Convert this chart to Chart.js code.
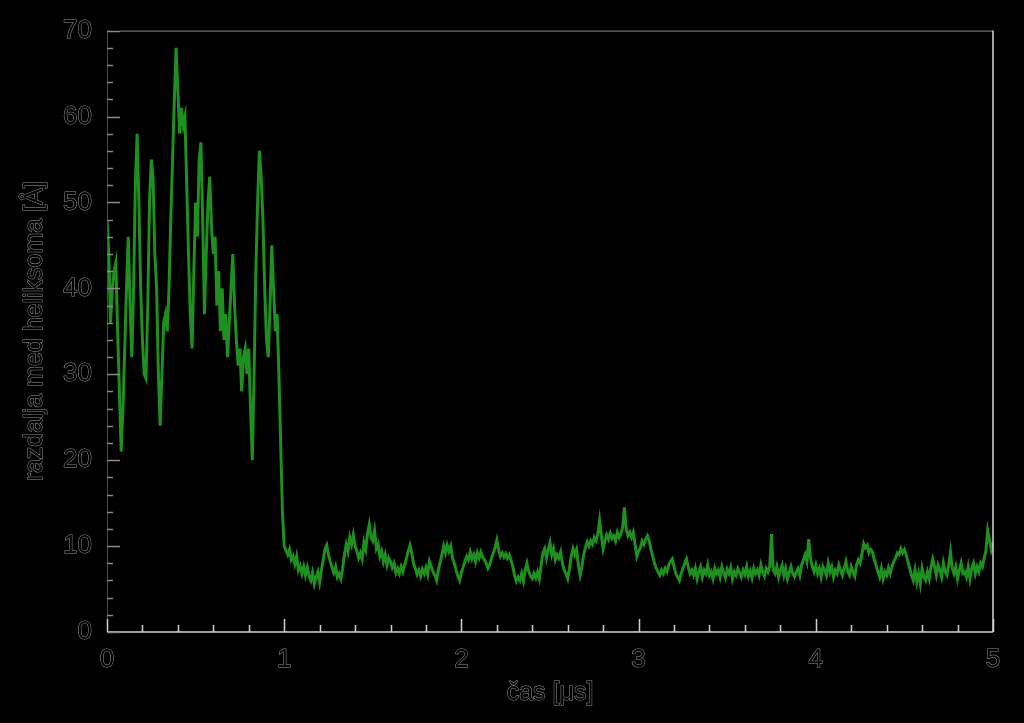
<!DOCTYPE html>
<html>
<head>
<meta charset="utf-8">
<script src="https://cdn.jsdelivr.net/npm/chart.js@4.4.1/dist/chart.umd.min.js"></script>
<style>
  html, body { margin: 0; padding: 0; background: #000; }
  canvas { display: block; }
</style>
</head>
<body>
<canvas id="chart" width="1024" height="723"></canvas>
<script>
// Zeitschritt der Messreihe (mikrosekunden)
var timeStep = 0.01;

// Abstand zwischen den Helices (0 ... 1 us)
var distanceEarly = [
  48, 44, 36, 40, 42, 43, 35, 28, 21, 26, 33, 40, 46, 38, 32, 40, 52, 58, 50, 40,
  34, 30, 29.5, 38, 50, 55, 53, 44, 40, 30, 24, 30, 36, 37, 35, 40, 48, 55, 62, 68,
  63, 58, 61, 59, 60, 52, 44, 37, 33, 42, 50, 46, 55, 57, 48, 37, 44, 50, 53, 47,
  44, 46, 38, 42, 35, 40, 34, 37, 32, 36, 40, 44, 38, 34, 31, 33, 28, 32, 33, 30,
  33, 26, 20, 30, 42, 50, 56, 53, 48, 40, 34, 32, 38, 45, 40, 35, 37, 30, 22, 14,
  10
];

// Abstand nach dem Zusammenklappen (1.01 ... 5 us)
var distanceLate = [
  9.5, 9.0, 9.6, 8.4, 8.8, 7.9, 8.8, 7.2, 7.7, 6.8, 7.6, 6.6, 7.5, 6.5, 6.0, 6.9, 5.6, 6.4, 7.0, 5.8,
  7.2, 8.4, 9.6, 10.1, 9.0, 8.2, 7.5, 6.9, 7.6, 6.4, 6.8, 6.2, 7.4, 9.0, 10.2, 9.4, 11.0, 10.2, 11.3, 10.0,
  9.4, 8.6, 9.2, 8.5, 10.4, 9.6, 11.4, 12.5, 11.0, 10.6, 11.8, 9.7, 10.2, 8.8, 9.4, 8.2, 9.0, 7.8, 8.6, 8.2,
  7.5, 8.0, 6.9, 7.4, 6.8, 7.6, 7.0, 7.8, 8.6, 9.4, 10.1, 9.2, 8.0, 7.4, 6.7, 7.2, 6.5, 7.3, 6.8, 7.5,
  6.7, 8.2, 7.6, 7.0, 6.6, 6.0, 7.2, 8.1, 9.0, 10.0, 9.2, 10.1, 9.4, 10.0, 8.6, 8.0, 7.2, 6.5, 6.0, 6.9,
  7.6, 8.2, 8.8, 8.4, 9.3, 8.5, 9.0, 8.2, 9.2, 8.6, 9.3, 8.7, 8.4, 8.0, 7.4, 7.8, 8.6, 9.2, 9.8, 10.7,
  9.6, 8.8, 9.2, 8.7, 9.1, 8.6, 9.0, 8.4, 7.6, 6.6, 5.9, 6.4, 6.0, 6.8, 5.9, 7.2, 8.0, 7.0, 6.5, 6.2,
  6.8, 6.3, 7.0, 6.2, 7.8, 9.2, 9.7, 8.6, 9.6, 10.4, 9.0, 9.7, 8.4, 9.0, 8.6, 9.3, 8.0, 7.2, 6.8, 6.2,
  7.4, 8.8, 9.7, 9.0, 9.6, 7.8, 6.6, 7.6, 9.0, 9.8, 10.5, 10.0, 10.6, 10.2, 11.0, 10.6, 11.4, 13.0, 11.2, 9.7,
  10.6, 11.3, 10.8, 11.5, 10.9, 11.2, 10.6, 11.6, 11.0, 11.4, 12.2, 14.5, 12.0, 11.2, 11.6, 11.0, 11.6, 10.2, 8.8, 9.4,
  9.8, 10.6, 10.2, 10.8, 11.2, 10.6, 9.6, 8.8, 8.0, 7.4, 7.0, 6.6, 7.2, 6.8, 7.4, 7.0, 7.8, 8.2, 8.5, 7.6,
  6.8, 6.4, 6.0, 6.8, 7.4, 8.0, 8.5, 7.6, 6.8, 7.2, 6.6, 7.4, 6.2, 7.0, 7.6, 6.4, 7.2, 6.8, 7.8, 6.6,
  7.0, 6.2, 7.4, 6.8, 7.2, 6.4, 7.6, 6.9, 6.3, 7.3, 6.8, 7.5, 6.2, 7.0, 6.6, 7.4, 6.9, 6.4, 7.2, 6.7,
  7.6, 6.5, 7.1, 6.3, 7.4, 6.8, 7.2, 6.6, 7.8, 7.0, 6.5, 7.4, 7.0, 7.6, 11.4, 7.2, 6.8, 7.6, 6.4, 7.2,
  7.8, 6.6, 7.4, 6.2, 6.9, 7.6, 6.8, 6.4, 7.0, 7.4, 6.6, 7.8, 8.4, 9.0, 8.2, 10.8, 8.6, 7.6, 7.0, 7.8,
  6.8, 7.4, 6.4, 7.6, 7.2, 6.6, 8.0, 7.0, 7.6, 6.4, 7.2, 6.8, 7.8, 7.2, 6.6, 7.4, 8.2, 7.0, 6.6, 7.6,
  7.0, 6.5, 7.8, 8.4, 8.0, 9.0, 10.3, 9.8, 10.1, 9.2, 9.6, 9.3, 8.4, 7.8, 7.0, 6.4, 7.4, 6.2, 7.0, 6.6,
  7.5, 6.8, 7.6, 8.2, 8.6, 9.2, 9.0, 9.7, 9.2, 9.6, 9.0, 8.2, 7.4, 6.6, 6.0, 7.2, 5.8, 6.8, 5.6, 7.4,
  6.4, 6.0, 7.0, 6.2, 7.6, 8.5, 7.6, 6.6, 7.8, 7.2, 6.4, 8.0, 7.0, 6.6, 7.8, 9.3, 7.4, 6.8, 7.6, 6.2,
  7.2, 8.0, 6.8, 7.0, 6.4, 7.6, 6.2, 7.4, 8.0, 6.8, 7.6, 7.0, 8.0, 7.6, 8.6, 9.4, 11.8, 10.7, 9.6, 10.4
];

var xTicks = [0, 1, 2, 3, 4, 5];
var yTicks = [0, 10, 20, 30, 40, 50, 60, 70];
var xTitle = 'čas [μs]';
var yTitle = 'razdalja med heliksoma [Å]';

var FONT = '"Liberation Sans", Arial, sans-serif';
var OUTLINE = 'rgba(185,185,185,0.8)';

(function () {
    var values = distanceEarly.concat(distanceLate);
    var points = values.map(function (v, i) {
        return { x: +(i * timeStep).toFixed(2), y: v };
    });

    // Achsenmarken nach innen zeichnen, dazu Rahmen und Titel mit Umrissschrift.
    var framePlugin = {
        id: 'frame',
        afterDatasetsDraw: function (chart) {
            var ctx = chart.ctx;
            var a = chart.chartArea;
            var xs = chart.scales.x;
            var ys = chart.scales.y;
            ctx.save();

            // Rahmen
            ctx.lineWidth = 1;
            ctx.strokeStyle = '#8a8a8a';
            ctx.beginPath();
            ctx.moveTo(a.left + 13, a.top + 0.5);
            ctx.lineTo(a.right, a.top + 0.5);
            ctx.stroke();
            ctx.strokeStyle = '#d8d8d8';
            ctx.lineWidth = 1.5;
            ctx.beginPath();
            ctx.moveTo(a.right, a.top);
            ctx.lineTo(a.right, a.bottom);
            ctx.stroke();
            ctx.beginPath();
            ctx.moveTo(a.left, a.bottom);
            ctx.lineTo(a.right, a.bottom);
            ctx.stroke();
            ctx.strokeStyle = '#4a4a4a';
            ctx.lineWidth = 1;
            ctx.beginPath();
            ctx.moveTo(a.left + 0.5, a.top);
            ctx.lineTo(a.left + 0.5, a.bottom);
            ctx.stroke();

            // x-Marken: jede 0.2 us klein, ganze us groß
            ctx.strokeStyle = '#d0d0d0';
            ctx.lineWidth = 1.5;
            for (var k = 0; k <= 25; k++) {
                var px = Math.round(xs.getPixelForValue(k * 0.2)) + 0.5;
                var len = (k % 5 === 0) ? 13 : 7;
                ctx.beginPath();
                ctx.moveTo(px, a.bottom);
                ctx.lineTo(px, a.bottom - len);
                ctx.stroke();
            }

            // y-Marken: alle 2 klein, alle 10 groß
            ctx.strokeStyle = '#8a8a8a';
            ctx.lineWidth = 1.5;
            for (var m = 0; m <= 35; m++) {
                var py = Math.round(ys.getPixelForValue(m * 2)) + 0.5;
                var ylen = (m % 5 === 0) ? 13 : 6;
                ctx.beginPath();
                ctx.moveTo(a.left, py);
                ctx.lineTo(a.left + ylen, py);
                ctx.stroke();
            }

            // Achsentitel als Umrissschrift
            ctx.lineWidth = 1;
            ctx.strokeStyle = OUTLINE;
            ctx.fillStyle = '#000';
            ctx.font = '25px ' + FONT;
            ctx.textAlign = 'center';
            ctx.textBaseline = 'middle';
            var cx = (a.left + a.right) / 2;
            ctx.strokeText(xTitle, cx, 693);
            ctx.fillText(xTitle, cx, 693);

            ctx.translate(35, (a.top + a.bottom) / 2);
            ctx.rotate(-Math.PI / 2);
            ctx.strokeText(yTitle, 0, 0);
            ctx.fillText(yTitle, 0, 0);
            ctx.restore();
        }
    };

    var ctx = document.getElementById('chart').getContext('2d');
    new Chart(ctx, {
        type: 'line',
        data: {
            datasets: [
                {
                    data: points,
                    borderColor: '#1f8f1f',
                    borderWidth: 3,
                    pointRadius: 0,
                    tension: 0,
                    fill: false,
                },
            ],
        },
        options: {
            responsive: false,
            animation: false,
            layout: { padding: { top: 17, right: 31, left: 0, bottom: 0 } },
            plugins: {
                legend: { display: false },
                tooltip: { enabled: false },
            },
            scales: {
                x: {
                    type: 'linear',
                    min: 0,
                    max: 5,
                    afterBuildTicks: function (scale) {
                        scale.ticks = xTicks.map(function (v) { return { value: v }; });
                    },
                    grid: { display: false, drawTicks: false },
                    border: { display: false },
                    ticks: {
                        color: '#000',
                        textStrokeColor: OUTLINE,
                        textStrokeWidth: 1,
                        font: { family: FONT, size: 26 },
                        padding: 12,
                        maxRotation: 0,
                    },
                    afterFit: function (scale) { scale.height = 91; },
                },
                y: {
                    type: 'linear',
                    min: 0,
                    max: 70,
                    afterBuildTicks: function (scale) {
                        scale.ticks = yTicks.map(function (v) { return { value: v }; });
                    },
                    grid: { display: false, drawTicks: false },
                    border: { display: false },
                    ticks: {
                        color: '#000',
                        textStrokeColor: OUTLINE,
                        textStrokeWidth: 1,
                        font: { family: FONT, size: 26 },
                        padding: 15,
                    },
                    afterFit: function (scale) { scale.width = 107; },
                },
            },
        },
        plugins: [framePlugin],
    });
})();
</script>
</body>
</html>
